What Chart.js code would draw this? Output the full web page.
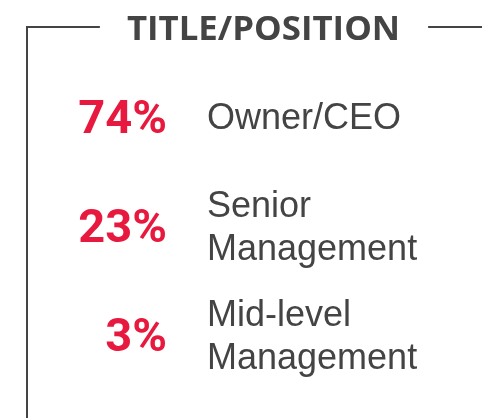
<!DOCTYPE html>
<html>
<head>
<meta charset="utf-8">
<script src="https://cdn.jsdelivr.net/npm/chart.js@4"></script>
<style>
  html, body { margin: 0; padding: 0; background: #fff; }
  canvas { display: block; }
</style>
</head>
<body>
<canvas id="chart" width="482" height="418"></canvas>
<script>
const chartTitle = "TITLE/POSITION";
const categories = [["Owner/CEO"], ["Senior", "Management"], ["Mid-level", "Management"]];
const shares = [74, 23, 3];

const RED = "#e8193e";
const GRAY = "#444444";

// draws the framed title and the rows of text
const infoPlugin = {
    id: "info",
    afterDatasetsDraw(chart) {
        const ctx = chart.ctx;
        const y = chart.scales.y;
        ctx.save();

        // title + frame
        ctx.font = "bold 34.8px 'Open Sans'";
        ctx.fillStyle = GRAY;
        ctx.textAlign = "center";
        ctx.textBaseline = "alphabetic";
        const tw = ctx.measureText(chartTitle).width;
        const cx = 263.5;
        ctx.fillText(chartTitle, cx, 40);

        ctx.strokeStyle = GRAY;
        ctx.lineWidth = 2;
        ctx.beginPath();
        ctx.moveTo(cx - tw / 2 - 27, 27);
        ctx.lineTo(27, 27);
        ctx.lineTo(27, chart.height);
        ctx.moveTo(cx + tw / 2 + 28, 27);
        ctx.lineTo(chart.width, 27);
        ctx.stroke();

        shares.forEach((v, i) => {
            const py = y.getPixelForValue(i);

            ctx.font = "bold 47px Roboto";
            ctx.fillStyle = RED;
            ctx.textAlign = "right";
            ctx.fillText(v + "%", 167, py + 17);

            const lines = categories[i];
            const lh = 43;
            ctx.font = "36px 'Liberation Sans'";
            ctx.fillStyle = GRAY;
            ctx.textAlign = "left";
            const first = py + 13 - (lines.length - 1) * lh / 2;
            lines.forEach((t, k) => ctx.fillText(t, 207, first + k * lh));
        });

        ctx.restore();
    }
};

new Chart(document.getElementById("chart"), {
    type: "bar",
    data: {
        labels: categories,
        datasets: [{ data: shares, backgroundColor: "rgba(0,0,0,0)" }]
    },
    options: {
        indexAxis: "y",
        responsive: false,
        animation: false,
        layout: { padding: { top: 61, bottom: 29, left: 0, right: 0 } },
        scales: {
            x: { display: false, min: 0, max: 100 },
            y: { display: false }
        },
        plugins: {
            legend: { display: false },
            tooltip: { enabled: false },
            title: { display: false }
        }
    },
    plugins: [infoPlugin]
});
</script>
</body>
</html>
